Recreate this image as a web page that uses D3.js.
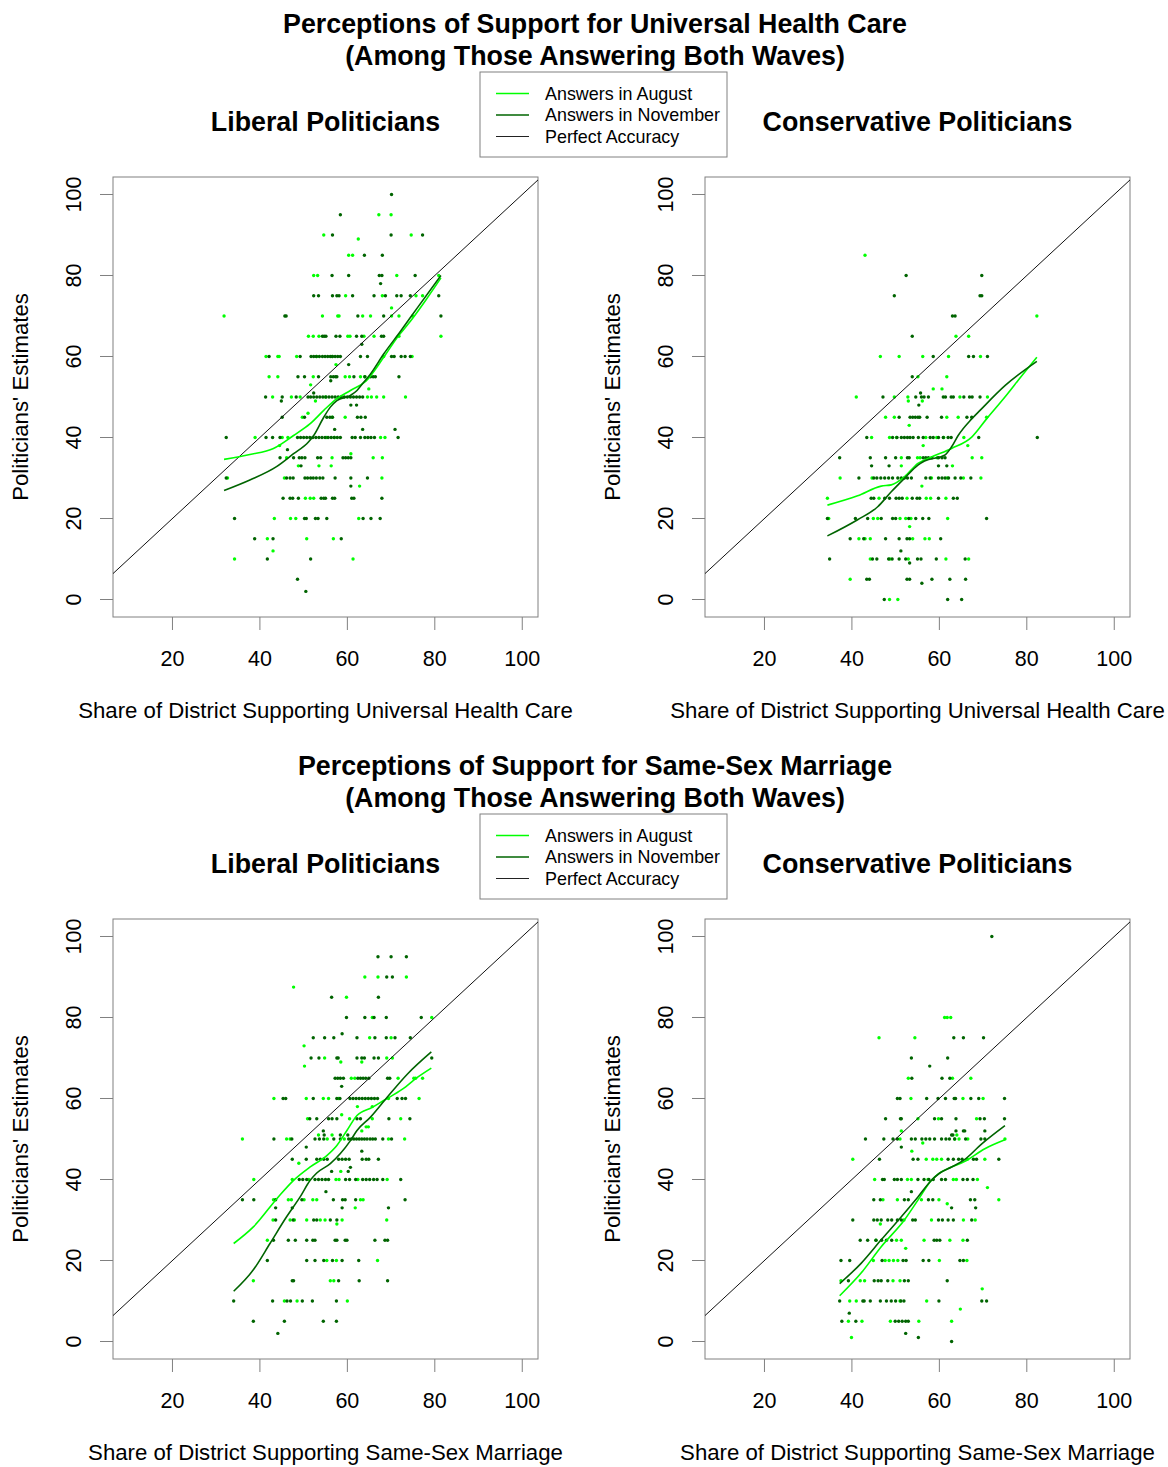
<!DOCTYPE html>
<html>
<head>
<meta charset="utf-8">
<script src="https://cdn.jsdelivr.net/npm/d3@7"></script>
<style>
  body { margin: 0; background: white; }
  text { font-family: "Liberation Sans", Arial, sans-serif; }
</style>
</head>
<body>
<script>
// points are stored by row: [y, [x, x, ...]]
const p1Aug = [
  [95,[67.2,70.0]], [90,[54.6,74.6]], [89,[62.5]], [85,[60.3,61.2]],
  [80,[52.3,53.2,71.3,80.9]], [75,[59.6,68.0,75.7,77.2]], [72,[70.1]],
  [70,[31.8,54.3,57.8,58.1,63.5,65.3,70.1,71.8,74.9]],
  [65,[51.1,52.2,53.5,60.1,60.6,63.8,66.1,71.8,81.4]],
  [60,[41.4,44.1,44.4,48.4,53.0,56.5,68.3,74.8]], [58,[57.4]],
  [55,[42.1,44.1,52.2,59.5,60.5,63.0,64.0]], [53,[51.6]], [52,[64.9]],
  [50,[42.9,47.2,49.2,55.0,64.6,65.5,66.7,68.3,73.3]], [49,[52.7]], [46,[51.0]],
  [45,[49.7,56.5,59.5]], [40,[38.9,45.1,46.4,55.3,57.0,67.6,68.6]], [38,[44.5]], [36,[60.8]],
  [35,[46.1,56.5,65.9,68.0]], [33,[48.8,53.5,56.3]], [30,[32.6,45.6,67.9]], [28,[62.8]],
  [25,[50.4,51.5,52.3]], [20,[43.3,47.0,48.2,62.6]], [15,[41.7,50.7,56.8]], [12,[43.0]],
  [10,[34.2,61.3]]
];
const p1Nov = [
  [100,[70.1]], [95,[58.4]], [90,[56.6,70.0,77.2]], [85,[63.9,68.0]],
  [80,[56.5,60.3,67.3,67.9,75.5]], [78,[67.6]],
  [75,[52.3,53.4,56.6,57.6,58.1,61.2,66.1,68.7,71.3,72.3,74.4,80.9]],
  [70,[45.7,46.0,62.4,68.3,81.4]],
  [65,[54.3,54.7,55.1,57.4,58.3,62.1,63.3,67.8,68.3]], [63,[63.3]],
  [60,[42.1,49.2,51.7,52.3,52.9,53.6,54.3,54.9,55.5,56.1,56.6,57.2,57.8,58.4,63.0,64.6,70.1,70.7,72.3,73.2,74.4]],
  [58,[60.3]],
  [55,[48.7,50.2,53.4,56.2,56.8,57.3,57.6,61.5,64.0,65.3,65.9,66.4,71.8]], [54,[56.2]], [51,[52.3]],
  [50,[41.3,45.1,48.3,51.0,51.6,52.3,53.0,53.7,54.4,55.1,55.8,56.5,57.2,57.9,58.6,59.3,60.0,60.7,61.4,62.1,62.8,63.5]],
  [49,[44.9]], [48,[60.8,62.1]],
  [45,[45.1,50.2,55.3,56.0,56.6,62.3,63.1,64.1]], [42,[57.1,63.5,70.9]],
  [40,[32.3,41.4,42.9,44.6,48.6,49.3,50.0,50.7,51.4,52.1,52.8,53.5,54.2,54.9,55.6,56.3,57.0,57.7,58.4,61.1,61.8,63.0,64.0,64.7,65.4,66.2,71.6]],
  [37,[46.3]],
  [35,[44.6,47.7,49.0,49.6,50.3,53.2,53.9,59.0,59.6,60.2,60.8]], [33,[49.4]],
  [30,[32.3,46.1,46.9,47.6,50.3,50.9,51.6,52.2,52.9,53.7,54.4,57.2,60.8,64.6]], [28,[60.8]],
  [25,[45.3,46.9,47.5,48.8,54.0,54.6,55.0,56.6,57.1,61.0,61.5,67.9]],
  [20,[34.2,50.2,50.6,52.7,53.3,55.3,63.6,65.4,67.5]], [15,[38.8,43.0,58.6]],
  [10,[41.7,51.6]], [5,[48.6]], [2,[50.5]]
];
const p2Aug = [
  [85,[43.0]], [70,[82.3]], [65,[63.8,66.7]], [60,[46.5,50.8,56.2,62.1,69.4]],
  [55,[55.1,61.7]], [52,[58.6,60.6]], [50,[41.0,49.7,52.8,64.7,71.0]], [49,[52.9,56.1]],
  [45,[47.7,49.7,61.7,64.3,70.8]], [43,[53.1]], [40,[44.5,48.6,50.2,56.9,59.4,61.0,65.6]],
  [38,[56.3,66.5]], [35,[51.3,55.0,55.6,59.5,67.5,69.7]], [33,[51.3,63.0]],
  [30,[37.3,44.6,58.2,61.8,65.5,69.5]], [28,[56.0]], [25,[34.4,46.2,52.6,57.0,58.0,61.5]],
  [20,[34.7,44.9,45.9,51.0,52.3,53.5,61.9]], [18,[53.2]], [15,[41.6,43.0,44.2,53.9,56.7,57.7]],
  [10,[44.2,48.7,52.9,61.5,66.7]], [5,[39.6]], [0,[48.6,50.5]]
];
const p2Nov = [
  [80,[52.4,69.7]], [75,[49.7,69.3,69.7]], [70,[63.0,63.6]], [65,[53.8]],
  [60,[58.6,66.7,67.8,71.0]], [55,[53.8]], [51,[55.7]],
  [50,[47.1,54.6,55.9,56.5,57.5,60.9,61.4,62.7,63.2,65.6,66.9,67.5,69.3]], [48,[55.3]],
  [45,[50.8,53.3,53.9,54.5,55.1,55.5,57.2,60.5,66.3,67.4]],
  [40,[43.4,49.3,50.3,51.3,52.0,52.7,53.3,54.0,55.2,56.3,57.9,58.6,59.8,60.9,62.0,62.7,69.0,82.4]],
  [35,[37.2,44.2,47.7,50.0,52.7,53.1,56.3,56.9,57.5,58.3,59.8,60.6,61.3]],
  [33,[44.5,48.5,59.8,61.7]],
  [30,[41.6,45.0,45.7,46.6,47.5,48.4,49.3,50.5,51.3,52.0,52.7,53.6,56.9,57.9,59.8,60.6,61.3,62.1,63.6,64.9,67.2]],
  [25,[44.4,45.0,47.5,48.6,50.1,50.8,51.5,53.8,54.9,55.5,59.8,63.2,64.1]],
  [20,[34.4,40.8,43.6,46.7,49.3,50.0,53.0,54.6,56.2,57.6,70.8]],
  [15,[39.6,42.7,47.7,50.8,52.6,53.2,60.3]], [12,[51.2]],
  [10,[34.9,44.7,45.7,48.4,49.2,50.8,52.3,55.0,55.8,59.3,65.9]], [9,[53.2]],
  [5,[43.4,44.0,52.6,53.2,58.3,62.4,66.0]], [4,[56.0]], [0,[47.4,61.9,65.1]]
];
const p3Aug = [
  [90,[64.0,67.0,73.5]], [87.5,[47.7]], [85,[59.8]], [80,[65.7,79.3]], [75,[65.1,70.0]],
  [73,[50.1]], [70,[54.8,69.0,70.3]], [69,[58.5,63.3]], [68,[50.2]],
  [65,[60.9,61.7,71.6,75.2,75.6,77.2]], [60,[43.2,50.6,54.5,55.7,58.0,69.4,76.4]],
  [58,[62.3,65.7]], [56,[58.7]], [55,[50.9,60.5,65.7,72.2]], [53,[64.3,64.8]], [52,[63.3]],
  [51,[53.4,56.5]], [50,[36.0,46.1,46.9,55.4,59.3,69.4,73.1]], [44,[48.9]], [42,[58.5]],
  [40,[38.6,47.4,51.2,57.4,58.1,62.4,69.1]], [35,[43.1,46.5,47.2,50.1,52.1,53.0,63.0,63.6]],
  [33,[61.8]], [30,[43.0,46.9,47.9,50.7,53.8,54.9,58.8,69.0]], [29,[57.6]], [25,[41.7]],
  [20,[55.3,57.5,66.9]], [15,[38.5,56.1,56.9]], [10,[45.6,48.5,60.0]]
];
const p3Nov = [
  [95,[67.0,70.0,73.5]], [90,[69.0,70.3]], [85,[56.4,67.1]], [80,[59.8,64.0,66.1,68.9,76.9]],
  [76,[58.8]], [75,[52.2,54.8,56.9,62.2,66.3,68.9,70.9,74.4]],
  [70,[51.7,53.5,57.6,57.9,62.2,63.3,63.9,66.1,67.1,79.3]],
  [65,[57.2,57.8,58.4,59.1,62.4,63.0,63.6,64.2,64.9,69.2,69.7]], [63,[58.7]],
  [60,[45.3,45.9,52.2,57.6,58.3,60.6,61.3,62.0,62.7,63.4,64.1,64.8,65.5,66.2,66.9,71.4,72.5,73.3]],
  [55,[51.4,53.0,55.7,56.5,57.6,62.2,63.0,69.5,74.3]], [52,[54.5]], [51,[54.7,58.4,60.1]],
  [50,[43.2,47.3,52.6,53.6,54.6,56.9,58.4,60.3,60.9,61.5,62.1,62.7,63.3,63.9,64.5,65.2,65.8,66.4,68.1,70.1]],
  [48,[50.6]], [47,[63.3]],
  [45,[47.4,50.6,53.0,53.8,54.6,55.4,58.0,58.8,59.6,60.4,63.4,64.3,64.9,67.1]],
  [43,[60.7]], [42,[56.4,60.2]],
  [40,[49.0,49.8,50.7,52.6,53.4,54.2,55.0,55.7,59.6,60.5,61.9,63.5,64.3,65.1,66.0,66.8,68.1,72.2]],
  [37,[55.1]], [35,[36.0,38.6,43.6,49.6,56.8,58.9,59.5,61.9,73.2]], [33,[43.6,47.4,58.8,69.4]],
  [30,[43.6,47.6,52.3,53.0,56.1,57.6]],
  [25,[43.1,46.5,48.1,50.7,52.1,52.6,57.2,57.6,59.5,59.9,66.3,68.6,69.2]],
  [20,[41.7,50.7,52.6,54.6,56.6,58.8,62.6]], [15,[47.4,47.7,58.0,62.7,69.2]],
  [10,[34.0,42.9,46.2,47.0,49.7,52.0,57.5]], [5,[38.5,45.6,54.5,57.5]], [2,[44.1]]
];
const p4Aug = [
  [80,[61.2,61.8,62.6]], [75,[46.2,54.4]], [65,[52.9,63.0,67.2]], [60,[53.5,65.4,70.0]],
  [55,[55.1,59.8,68.5]], [52,[51.3]], [51,[64.0]], [50,[51.0,63.5,64.5,66.5,75.0]], [49,[56.2]],
  [47,[53.7]], [45,[40.2,57.0,58.5,59.4,60.5,66.4,70.4]],
  [40,[45.2,52.7,53.6,57.4,63.2,63.9,68.7]], [38,[71.0]], [35,[47.1,50.4,55.9,59.9,73.6]],
  [34,[61.8]], [30,[51.9,58.2,65.5,68.2]], [29,[46.5]], [25,[45.5,50.2,51.3,56.5,62.4,65.4]],
  [23,[52.3]], [20,[44.9,47.6,48.5,49.5,50.5,60.0,66.3]], [15,[37.5,41.9,42.9,49.4,51.0]],
  [13,[69.8]], [10,[39.5,41.0,51.0,57.1]], [8,[64.8]], [5,[39.2,42.3,48.8,55.3,62.8]], [1,[39.9]]
];
const p4Nov = [
  [100,[72.0]], [75,[63.3,65.5,70.1]], [70,[53.6,61.9]], [68,[57.8]], [65,[53.7,60.6,62.4]],
  [60,[50.4,51.0,57.1,59.7,61.4,63.4,63.7,67.2,69.0,74.9]],
  [55,[47.7,51.1,51.3,58.9,60.5,63.8,69.3,70.3,74.9]], [52,[63.8,65.5,65.8,70.4]], [51,[62.8,63.1]],
  [50,[43.1,47.3,49.4,50.4,53.6,54.5,56.0,56.9,57.8,58.9,60.5,61.5,62.3,63.5,66.0,69.5,70.4]],
  [48,[51.3]], [45,[46.3,54.0,55.1,62.0,63.2,64.4,65.2,67.8,68.5,73.6]],
  [40,[47.0,47.4,49.7,50.4,51.3,55.1,56.5,57.6,58.6,60.5,61.4,65.4,66.4,67.7]], [37,[53.6]],
  [35,[45.0,46.5,52.0,52.9,57.5,58.5,67.1,68.1]], [33,[62.8,68.3]],
  [30,[40.2,45.0,45.8,46.7,48.2,49.1,50.4,51.3,53.9,54.5,59.8,60.7,62.0,63.2,67.4]],
  [25,[41.9,43.6,45.5,46.8,47.9,49.1,58.8,59.4,60.1,66.4]],
  [20,[37.5,39.5,46.9,51.7,52.4,56.3,57.6,64.7,65.5]],
  [15,[39.2,45.1,46.0,46.7,48.2,52.0,52.9,61.8]],
  [10,[37.2,42.5,42.8,44.2,46.5,47.9,49.0,50.0,51.2,51.9,59.9,69.7,70.8]], [7,[39.4]],
  [5,[37.7,40.9,49.9,50.7,51.5,52.3,52.9]], [2,[52.3]], [1,[55.2]], [0,[62.8]]
];

// smoothed curves
const p1AugFit = [[31.8,34.6],[37.7,35.8],[43.1,37.3],[47.7,40.5],[51.5,43.4],[54.6,46.7],[57.6,49.6],[60.7,51.6],[64.3,54],[68.3,59.8],[71.4,64.7],[74.5,68.8],[78,74],[81.4,79.4]];
const p1NovFit = [[31.8,26.9],[37.7,29.5],[43.8,32.8],[47.7,36],[51.1,38.9],[52.3,40.5],[54.6,45],[56.1,47.5],[57.6,49.1],[60.7,50.4],[62.2,51.6],[63.4,53.2],[65.3,55.7],[68.3,60.6],[72.2,66.3],[76,72],[81.4,80]];
const p2AugFit = [[34.4,23.3],[41.3,25.6],[46.7,28],[49,28.3],[52,30.3],[55.1,33.6],[58.2,35.2],[62.8,37.3],[67.4,40.1],[70.8,44.6],[75,50],[78.9,55.3],[82.3,59.8]];
const p2NovFit = [[34.4,15.7],[41.3,19.7],[45.9,22.9],[49,26.6],[52,29.9],[55.1,33.2],[56.6,34.2],[61.2,35.6],[62.8,37.7],[64.3,40.5],[67.4,44.6],[69.3,46.7],[75,52.8],[82.3,58.8]];
const p3AugFit = [[34,24.2],[38.5,28.3],[44.2,35.7],[47.7,39.8],[51.5,43.1],[55.3,45.9],[57.6,48.4],[59.9,52.1],[62.2,55.8],[65.7,57.8],[68.3,59.5],[72.6,62.3],[76,65.2],[79.2,67.5]];
const p3NovFit = [[34,12.4],[38.5,17.7],[42.3,24.2],[46.1,30.8],[49.2,35.7],[51.5,39.8],[53,41.6],[56.1,43.9],[58.4,46.4],[60.7,49.6],[62.2,52.1],[65.3,55.4],[69.1,60.3],[73.7,66],[79.2,71.5]];
const p4AugFit = [[37.2,11.3],[42.1,16.9],[46.7,23.4],[52,30],[55.1,34.9],[58.2,39.8],[59.7,41.3],[62.8,43.1],[65.5,44.3],[70.4,47.6],[75,49.8]];
const p4NovFit = [[37.2,14.3],[42.1,19.3],[46.7,25.1],[51.3,30.8],[55.1,35.7],[58.2,39.8],[60.1,41.6],[62.8,43.1],[65.5,44.7],[69.7,48.8],[75,53.3]];

const xTicks = [20, 40, 60, 80, 100];
const yTicks = [0, 20, 40, 60, 80, 100];
const legendLabels = ["Answers in August", "Answers in November", "Perfect Accuracy"];
const titles = ["Perceptions of Support for Universal Health Care", "Perceptions of Support for Same-Sex Marriage"];
const subtitle = "(Among Those Answering Both Waves)";
const panelTitles = ["Liberal Politicians", "Conservative Politicians"];
const xLabels = ["Share of District Supporting Universal Health Care", "Share of District Supporting Same-Sex Marriage"];
const yLabel = "Politicians' Estimates";

const AUG = '#00ff00', NOV = '#006400', BOXC = '#808080';

const width = 1168, height = 1467;
const svg = d3.select('body').append('svg')
  .attr('width', width).attr('height', height)
  .style('background', 'white');

const rows = r => r.flatMap(([y, xs]) => xs.map(x => [x, y]));

function panel(left, top, title, xLab, aug, nov, augFit, novFit, id) {
  const x = d3.scaleLinear().domain([6.4, 103.6]).range([left, left + 425]);
  const y = d3.scaleLinear().domain([-4.32, 104.32]).range([top + 440, top]);
  const g = svg.append('g');

  g.append('clipPath').attr('id', 'clip' + id)
    .append('rect').attr('x', left).attr('y', top).attr('width', 425).attr('height', 440);

  // y axis
  g.selectAll('.yt').data(yTicks).enter().append('line')
    .attr('x1', left).attr('x2', left - 13)
    .attr('y1', d => y(d)).attr('y2', d => y(d))
    .attr('stroke', BOXC);
  g.selectAll('.yl').data(yTicks).enter().append('text')
    .text(d => d)
    .attr('transform', d => `translate(${left - 32},${y(d)})rotate(-90)`)
    .attr('text-anchor', 'middle')
    .style('font-size', '21.5px');

  // x axis
  g.selectAll('.xt').data(xTicks).enter().append('line')
    .attr('x1', d => x(d)).attr('x2', d => x(d))
    .attr('y1', top + 440).attr('y2', top + 453)
    .attr('stroke', BOXC);
  g.selectAll('.xl').data(xTicks).enter().append('text')
    .text(d => d)
    .attr('x', d => x(d)).attr('y', top + 489)
    .attr('text-anchor', 'middle')
    .style('font-size', '21.5px');

  g.append('rect')
    .attr('x', left).attr('y', top).attr('width', 425).attr('height', 440)
    .attr('fill', 'none').attr('stroke', BOXC).attr('stroke-width', 1);

  g.append('text').text(title)
    .attr('x', left + 212.5).attr('y', top - 46)
    .attr('text-anchor', 'middle')
    .style('font-size', '26.8px').style('font-weight', 'bold');

  g.append('text').text(xLab)
    .attr('x', left + 212.5).attr('y', top + 541)
    .attr('text-anchor', 'middle')
    .style('font-size', '22.2px');

  g.append('text').text(yLabel)
    .attr('transform', `translate(${left - 85},${top + 220})rotate(-90)`)
    .attr('text-anchor', 'middle')
    .style('font-size', '22.2px');

  const plot = g.append('g').attr('clip-path', `url(#clip${id})`);

  plot.selectAll('.pa').data(rows(aug)).enter().append('circle')
    .attr('cx', d => x(d[0])).attr('cy', d => y(d[1])).attr('r', 1.7).attr('fill', AUG);
  plot.selectAll('.pn').data(rows(nov)).enter().append('circle')
    .attr('cx', d => x(d[0])).attr('cy', d => y(d[1])).attr('r', 1.7).attr('fill', NOV);

  plot.append('line')
    .attr('x1', x(0)).attr('y1', y(0)).attr('x2', x(110)).attr('y2', y(110))
    .attr('stroke', '#111').attr('stroke-width', 1);

  const line = d3.line().x(d => x(d[0])).y(d => y(d[1])).curve(d3.curveMonotoneX);
  plot.append('path').attr('d', line(augFit))
    .attr('fill', 'none').attr('stroke', AUG).attr('stroke-width', 1.6);
  plot.append('path').attr('d', line(novFit))
    .attr('fill', 'none').attr('stroke', NOV).attr('stroke-width', 1.6);
}

function section(offset, t, xLab, data) {
  svg.append('text').text(titles[t])
    .attr('x', 595).attr('y', 33 + offset)
    .attr('text-anchor', 'middle')
    .style('font-size', '26.8px').style('font-weight', 'bold');
  svg.append('text').text(subtitle)
    .attr('x', 595).attr('y', 65 + offset)
    .attr('text-anchor', 'middle')
    .style('font-size', '26.8px').style('font-weight', 'bold');

  panel(113, 177 + offset, panelTitles[0], xLab, data[0], data[1], data[2], data[3], t * 2);
  panel(705, 177 + offset, panelTitles[1], xLab, data[4], data[5], data[6], data[7], t * 2 + 1);

  // legend
  const lg = svg.append('g').attr('transform', `translate(480,${72 + offset})`);
  lg.append('rect').attr('width', 247).attr('height', 85)
    .attr('fill', 'white').attr('stroke', BOXC);
  const cols = [AUG, NOV, '#222'];
  lg.selectAll('line').data(legendLabels).enter().append('line')
    .attr('x1', 16).attr('x2', 49)
    .attr('y1', (d, i) => 21.5 + i * 21.5).attr('y2', (d, i) => 21.5 + i * 21.5)
    .attr('stroke', (d, i) => cols[i]).attr('stroke-width', (d, i) => i < 2 ? 1.6 : 1);
  lg.selectAll('text').data(legendLabels).enter().append('text')
    .text(d => d)
    .attr('x', 65).attr('y', (d, i) => 27.5 + i * 21.5)
    .style('font-size', '17.9px');
}

section(0, 0, xLabels[0], [p1Aug, p1Nov, p1AugFit, p1NovFit, p2Aug, p2Nov, p2AugFit, p2NovFit]);
section(742, 1, xLabels[1], [p3Aug, p3Nov, p3AugFit, p3NovFit, p4Aug, p4Nov, p4AugFit, p4NovFit]);
</script>
</body>
</html>
